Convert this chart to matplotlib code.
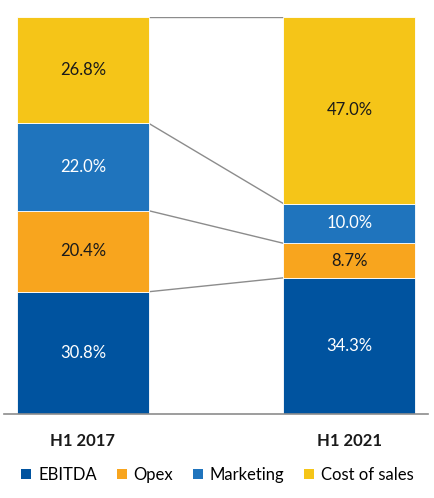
import matplotlib
matplotlib.use("Agg")
import matplotlib.pyplot as plt
from matplotlib.patches import Patch

plt.rcParams['font.family'] = ['Lato', 'DejaVu Sans']

categories = ["H1 2017", "H1 2021"]
series = ["EBITDA", "Opex", "Marketing", "Cost of sales"]
values = {
    "EBITDA": [30.8, 34.3],
    "Opex": [20.4, 8.7],
    "Marketing": [22.0, 10.0],
    "Cost of sales": [26.8, 47.0],
}
colors = {
    "EBITDA": "#00539F",
    "Opex": "#F8A51E",
    "Marketing": "#1F74BD",
    "Cost of sales": "#F5C518",
}
text_colors = {
    "EBITDA": "white",
    "Opex": "#1a1a1a",
    "Marketing": "white",
    "Cost of sales": "#1a1a1a",
}

fig = plt.figure(figsize=(4.35, 4.98), dpi=100)
W, H = 435, 498
ax = fig.add_axes([4 / W, 1 - 414 / H, (428 - 4) / W, (414 - 17) / H])

x = [0, 1]
width = 0.495
bottoms = [0.0, 0.0]
tops_list = []
for s in series:
    vals = values[s]
    ax.bar(x, vals, width, bottom=bottoms, color=colors[s], edgecolor="white",
           linewidth=0.6, zorder=2)
    for i in range(2):
        ax.text(x[i], bottoms[i] + vals[i] / 2, f"{vals[i]:.1f}%", ha="center",
                va="center", color=text_colors[s], fontsize=12, zorder=3)
    bottoms = [bottoms[i] + vals[i] for i in range(2)]
    tops_list.append(list(bottoms))

# connector lines between segment boundaries
for tops in tops_list:
    ax.plot([x[0] + width / 2, x[1] - width / 2], [tops[0], tops[1]],
            color="#8c8c8c", linewidth=1.0, zorder=1)

ax.set_xlim(-0.296, 1.295)
ax.set_ylim(0, 100)
for sp in ["top", "right", "left"]:
    ax.spines[sp].set_visible(False)
ax.spines["bottom"].set_color("#8c8c8c")
ax.spines["bottom"].set_linewidth(1.2)
ax.set_yticks([])
ax.set_xticks(x)
ax.set_xticklabels(categories, fontsize=12, fontweight="bold", color="#1a1a1a")
ax.tick_params(axis="x", length=0, pad=14)

handles = [Patch(facecolor=colors[s], label=s) for s in series]
fig.legend(handles=handles, loc="center", bbox_to_anchor=(0.5, 1 - 475 / H),
           ncol=4, frameon=False, fontsize=12, handlelength=0.6, handleheight=0.6,
           handletextpad=0.4, columnspacing=1.2)

fig.savefig("out.png", dpi=100)
